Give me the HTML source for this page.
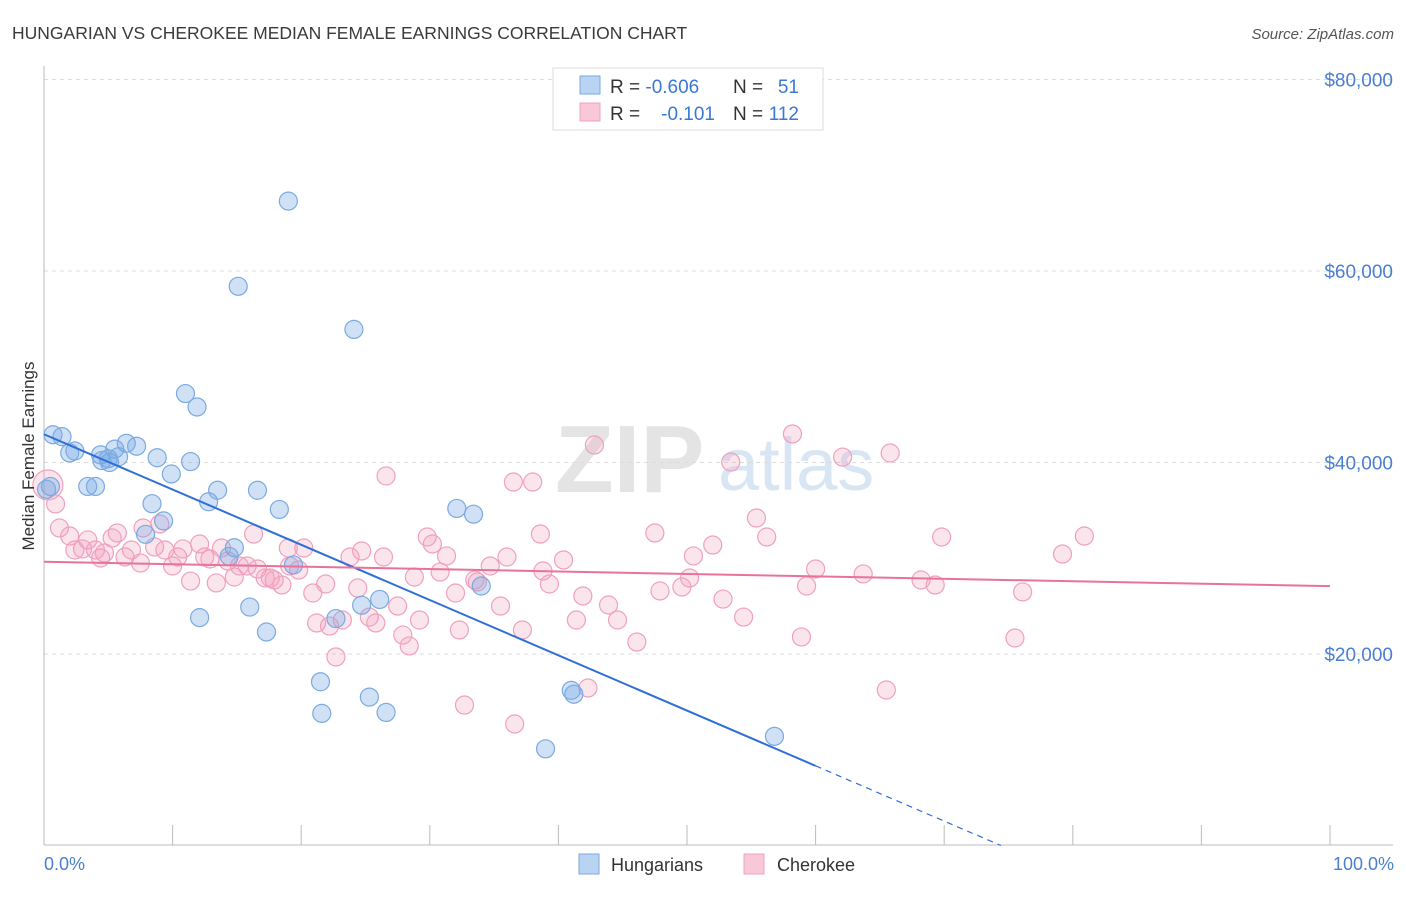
<!DOCTYPE html>
<html><head><meta charset="utf-8">
<style>
body{margin:0;background:#fff;font-family:"Liberation Sans",sans-serif;}
svg text{font-family:"Liberation Sans",sans-serif;}
</style></head>
<body>
<svg id="chart" width="1406" height="892" viewBox="0 0 1406 892" xmlns="http://www.w3.org/2000/svg">
<text x="12" y="39" font-size="17.5" fill="#3a3a3a">HUNGARIAN VS CHEROKEE MEDIAN FEMALE EARNINGS CORRELATION CHART</text>
<text x="1394" y="39" font-size="15" fill="#555" text-anchor="end" font-style="italic">Source: ZipAtlas.com</text>
<g>
<text x="555" y="492" font-size="96" fill="#e4e4e4" font-family="Liberation Serif" font-weight="bold">ZIP</text>
<text x="718" y="490" font-size="74" fill="#d8e6f4">atlas</text>
</g>
<g id="grid"></g>
<g id="axes"></g>
<g id="pts"></g>
<g id="lines"></g>
<text transform="translate(34,456) rotate(-90)" font-size="17" fill="#333" text-anchor="middle">Median Female Earnings</text>
<text x="44" y="870" font-size="18" fill="#4a7fd0">0.0%</text>
<text x="1394" y="870" font-size="18" fill="#4a7fd0" text-anchor="end">100.0%</text>
<g>
<rect x="553" y="68" width="270" height="62" fill="#fff" stroke="#ddd"/>
<rect x="580" y="76" width="20" height="18" fill="#b9d3f3" stroke="#7aaae0"/>
<rect x="580" y="103" width="20" height="18" fill="#f8c8d8" stroke="#f0a0bc"/>
<text x="610" y="93" font-size="19" fill="#333">R = <tspan fill="#3a78d8">-0.606</tspan></text>
<text x="733" y="93" font-size="19" fill="#333">N = </text><text x="799" y="93" font-size="19" fill="#3a78d8" text-anchor="end">51</text>
<text x="610" y="120" font-size="19" fill="#333">R = </text><text x="715" y="120" font-size="19" fill="#3a78d8" text-anchor="end">-0.101</text>
<text x="733" y="120" font-size="19" fill="#333">N = </text><text x="799" y="120" font-size="19" fill="#3a78d8" text-anchor="end">112</text>
</g>
<g>
<rect x="579" y="854" width="20" height="20" fill="#b9d3f3" stroke="#7aaae0"/>
<text x="611" y="871" font-size="18" fill="#333">Hungarians</text>
<rect x="744" y="854" width="20" height="20" fill="#f8c8d8" stroke="#f0a0bc"/>
<text x="777" y="871" font-size="18" fill="#333">Cherokee</text>
</g>
</svg>
<script>
const yTicks=[20000,40000,60000,80000];
const yTickLabels=["$20,000","$40,000","$60,000","$80,000"];
const xTicks=[0,10,20,30,40,50,60,70,80,90,100];
const blueX=[0.7,1.4,2.0,2.4,4.4,5.0,5.5,3.4,4.0,6.4,7.2,8.8,9.9,11.4,11.0,11.9,15.1,19.0,24.1,8.4,9.3,7.9,12.8,13.5,16.6,18.3,14.8,14.4,19.4,12.1,16.0,17.3,21.5,21.6,22.7,24.7,25.3,26.1,26.6,32.1,33.4,34.0,41.0,41.2,39.0,56.8,0.5,5.1,5.8,4.5,0.2];
const blueY=[42900,42700,41000,41200,40800,40400,41400,37500,37500,42000,41700,40500,38800,40100,47200,45800,58400,67300,53900,35700,33900,32500,35900,37100,37100,35100,31100,30200,29300,23800,24900,22300,17100,13800,23700,25100,15500,25700,13900,35200,34600,27100,16200,15800,10100,11400,37500,40000,40600,40200,37200];
const pinkX=[0.3,0.9,1.2,2.0,2.4,3.0,3.4,4.0,4.4,4.7,5.7,5.3,6.3,6.8,7.5,7.7,8.6,9.0,9.4,10.0,10.4,10.8,11.4,12.1,12.5,12.9,13.4,13.8,14.3,14.8,15.2,15.8,16.3,16.6,17.2,17.6,17.9,18.5,19.0,19.1,19.8,20.2,20.9,21.2,21.9,22.2,22.7,23.2,23.8,24.4,24.7,25.3,25.8,26.4,26.6,27.5,27.9,28.4,28.8,29.2,29.8,30.2,30.8,31.3,32.0,32.3,32.7,33.5,33.7,34.7,35.5,36.0,36.5,37.2,38.0,38.6,38.8,39.3,40.4,41.4,41.9,42.3,42.8,43.9,44.6,46.1,47.5,47.9,49.6,50.2,50.5,52.0,52.8,53.4,54.4,55.4,56.2,58.2,58.9,59.3,60.0,62.1,63.7,65.5,65.8,68.2,69.3,69.8,75.5,76.1,79.2,80.9,36.6];
const pinkY=[37650,35670,33160,32320,30860,30970,31910,30860,30030,30550,32640,32120,30130,30860,29500,33160,31180,33580,30860,29190,30130,30970,27620,31490,30130,29920,27420,31070,29710,28040,29190,29190,32530,28880,27940,27940,27730,27210,31070,29190,28770,31070,26370,23240,27310,22920,19690,23550,30130,26890,30760,23860,23240,30130,38590,25010,21980,20840,28040,23550,32220,31490,28560,30240,26370,22510,14670,27730,27520,29190,25010,30130,37960,22510,37960,32530,28670,27310,29820,23550,26060,16450,41830,25120,23550,21250,32640,26580,27000,27940,30240,31380,25740,40050,23860,34200,32220,42980,21780,27100,28880,40570,28360,16240,40990,27730,27210,32220,21670,26480,30440,32320,12690];
const NS="http://www.w3.org/2000/svg";
const X0=44,X1=1330,YB=845.5,YPX=191.5/20000;
const sx=v=>X0+(X1-X0)*v/100;
const sy=v=>YB-v*YPX;
function mk(tag,attrs,parent){const e=document.createElementNS(NS,tag);for(const k in attrs)e.setAttribute(k,attrs[k]);parent.appendChild(e);return e;}
const grid=document.getElementById('grid'),axes=document.getElementById('axes'),pts=document.getElementById('pts'),lines=document.getElementById('lines');
yTicks.forEach((t,i)=>{
 const l=mk('line',{x1:44,x2:1393,y1:sy(t),y2:sy(t),stroke:'#dcdcdc','stroke-dasharray':'4,4'},grid);
 
 
 const tx=mk('text',{x:1393,y:sy(t)+7,'font-size':19,fill:'#4a7fd0','text-anchor':'end'},grid);
 tx.textContent=yTickLabels[i];
 
 
});
const ya=mk('line',{x1:44,x2:44,y1:66,y2:845,stroke:'#bbb'},axes);


const xa=mk('line',{x1:44,x2:1393,y1:845,y2:845,stroke:'#bbb'},axes);


xTicks.forEach(t=>{
 const l=mk('line',{x1:sx(t),x2:sx(t),y1:825,y2:845,stroke:'#bbb'},axes);
 
 
});
function dots(xs,ys,fill,stroke,name){
 xs.forEach((x,i)=>{
  const c=mk('circle',{cx:sx(x),cy:sy(ys[i]),r:(i===0&&name==='cherokee-point')?15:9,fill:fill,stroke:stroke,'stroke-width':1.2},pts);
  
  
 });
}
dots(pinkX,pinkY,'rgba(242,160,190,0.28)','#f0a0bc','cherokee-point');
dots(blueX,blueY,'rgba(120,170,230,0.35)','#7aaae0','hungarian-point');
function reg(xs,ys){const n=xs.length;let mx=0,my=0;xs.forEach((x,i)=>{mx+=x;my+=ys[i];});mx/=n;my/=n;let sxy=0,sxx=0;xs.forEach((x,i)=>{sxy+=(x-mx)*(ys[i]-my);sxx+=(x-mx)*(x-mx);});const b=sxy/sxx;return [my-b*mx,b];}
const [ba,bb]=reg(blueX,blueY);
const bl=mk('line',{x1:sx(0),y1:sy(ba),x2:sx(60),y2:sy(ba+bb*60),stroke:'#2f6fd6','stroke-width':2},lines);


const xz=Math.min(-ba/bb,100);
const bd=mk('line',{x1:sx(60),y1:sy(ba+bb*60),x2:sx(xz),y2:sy(ba+bb*xz),stroke:'#2f6fd6','stroke-width':1.2,'stroke-dasharray':'6,5'},lines);


const [pa,pb]=reg(pinkX,pinkY);
const pl=mk('line',{x1:sx(0),y1:sy(pa),x2:sx(100),y2:sy(pa+pb*100),stroke:'#e8739a','stroke-width':2},lines);


</script>
</body></html>
